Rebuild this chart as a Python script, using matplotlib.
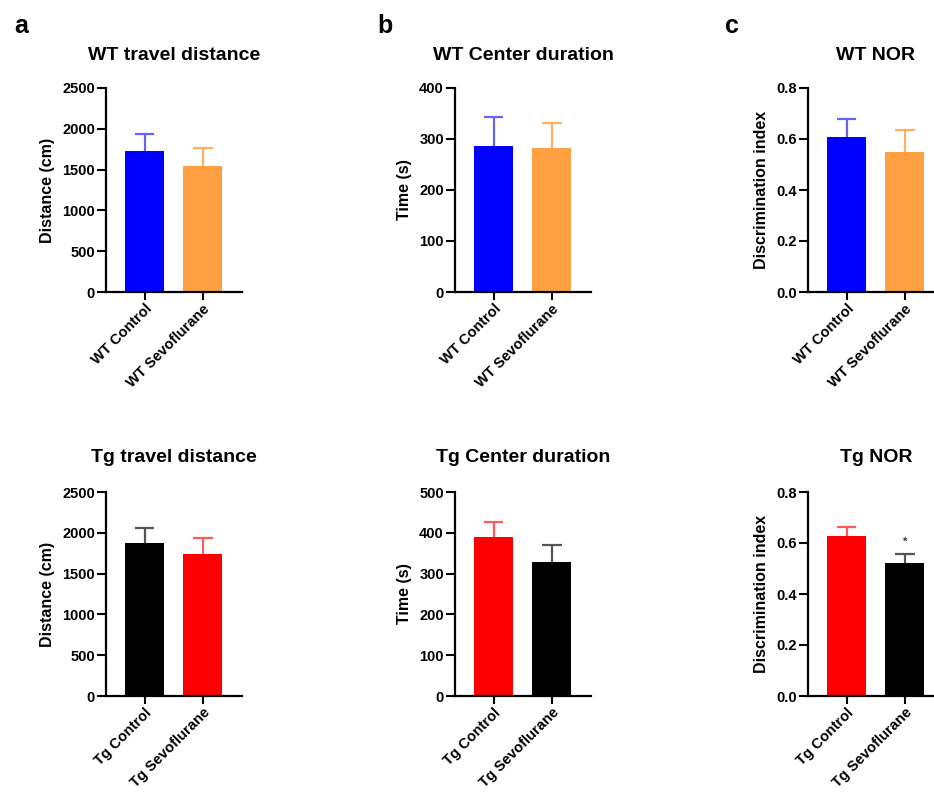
import matplotlib
matplotlib.use("Agg")
import matplotlib.pyplot as plt

plt.rcParams['font.family'] = ['Liberation Sans', 'DejaVu Sans']
plt.rcParams['font.weight'] = 'bold'
plt.rcParams['axes.labelweight'] = 'bold'

# data (mean, upper error)
wt_groups = ['WT Control', 'WT Sevoflurane']
tg_groups = ['Tg Control', 'Tg Sevoflurane']

wt_dist = [1730, 1540]
wt_dist_err = [205, 230]
tg_dist = [1875, 1736]
tg_dist_err = [178, 195]

wt_center = [287, 283]
wt_center_err = [57, 49]
tg_center = [389, 328]
tg_center_err = [37, 41]

wt_nor = [0.606, 0.549]
wt_nor_err = [0.074, 0.086]
tg_nor = [0.627, 0.522]
tg_nor_err = [0.036, 0.034]

blue = '#0000FF'
orange = '#FFA043'
red = '#FF0000'
black = '#000000'
err_col = {blue: '#6464F0', orange: '#FFB060', red: '#FF5A5A', black: '#555555'}

W, H = 934, 794
fig = plt.figure(figsize=(W / 100, H / 100), dpi=100)


def px_axes(left, top):
    # axes box given in pixel coords of the reference
    return fig.add_axes([left / W, 1 - (top + 204) / H, 136 / W, 204 / H])


def bar_panel(ax, labels, vals, errs, colors, ymax, ystep, ylabel, fmt):
    x = list(range(len(vals)))
    ax.bar(x, vals, width=0.67, color=colors, zorder=2)
    for xi, v, e, c in zip(x, vals, errs, colors):
        # upper-only error bar with a half-width cap
        ax.vlines(xi, v, v + e, color=err_col[c], lw=1.6, zorder=3)
        ax.hlines(v + e, xi - 0.17, xi + 0.17, color=err_col[c], lw=1.6, zorder=3)
    ax.set_xlim(-0.66, 1.67)
    ax.set_ylim(0, ymax)
    ticks = [i * ystep for i in range(int(round(ymax / ystep)) + 1)]
    ax.set_yticks(ticks)
    ax.set_yticklabels([fmt.format(t) for t in ticks])
    ax.set_xticks(x)
    ax.set_xticklabels(labels, rotation=45, ha='right', rotation_mode='anchor')
    ax.set_ylabel(ylabel, fontsize=11.5, labelpad=5)
    for s in ['top', 'right']:
        ax.spines[s].set_visible(False)
    for s in ['left', 'bottom']:
        ax.spines[s].set_linewidth(1.6)
    ax.tick_params(width=1.5, labelsize=10.5, pad=1.5)
    ax.tick_params(axis='y', length=6.5)
    ax.tick_params(axis='x', length=5.5)


ax1 = px_axes(106, 88)
bar_panel(ax1, wt_groups, wt_dist, wt_dist_err, [blue, orange], 2500, 500, 'Distance (cm)', '{:.0f}')
ax2 = px_axes(455, 88)
bar_panel(ax2, wt_groups, wt_center, wt_center_err, [blue, orange], 400, 100, 'Time (s)', '{:.0f}')
ax3 = px_axes(808, 88)
bar_panel(ax3, wt_groups, wt_nor, wt_nor_err, [blue, orange], 0.8, 0.2, 'Discrimination index', '{:.1f}')

ax4 = px_axes(106, 492)
bar_panel(ax4, tg_groups, tg_dist, tg_dist_err, [black, red], 2500, 500, 'Distance (cm)', '{:.0f}')
ax5 = px_axes(455, 492)
bar_panel(ax5, tg_groups, tg_center, tg_center_err, [red, black], 500, 100, 'Time (s)', '{:.0f}')
ax6 = px_axes(808, 492)
bar_panel(ax6, tg_groups, tg_nor, tg_nor_err, [red, black], 0.8, 0.2, 'Discrimination index', '{:.1f}')

# significance mark
ax6.text(1, tg_nor[1] + tg_nor_err[1] + 0.05, '*', ha='center', va='center', fontsize=8, color='#333333')

titles = [('WT travel distance', 174, 55), ('WT Center duration', 523, 55), ('WT NOR', 876, 55),
          ('Tg travel distance', 174, 457), ('Tg Center duration', 523, 457), ('Tg NOR', 876, 457)]
for t, xp, yp in titles:
    fig.text(xp / W, 1 - yp / H, t, ha='center', va='center', fontsize=14, fontweight='bold')

for lab, xp in [('a', 21), ('b', 385), ('c', 732)]:
    fig.text(xp / W, 1 - 26 / H, lab, ha='center', va='center', fontsize=18, fontweight='bold')

fig.savefig('out.png', dpi=100)
